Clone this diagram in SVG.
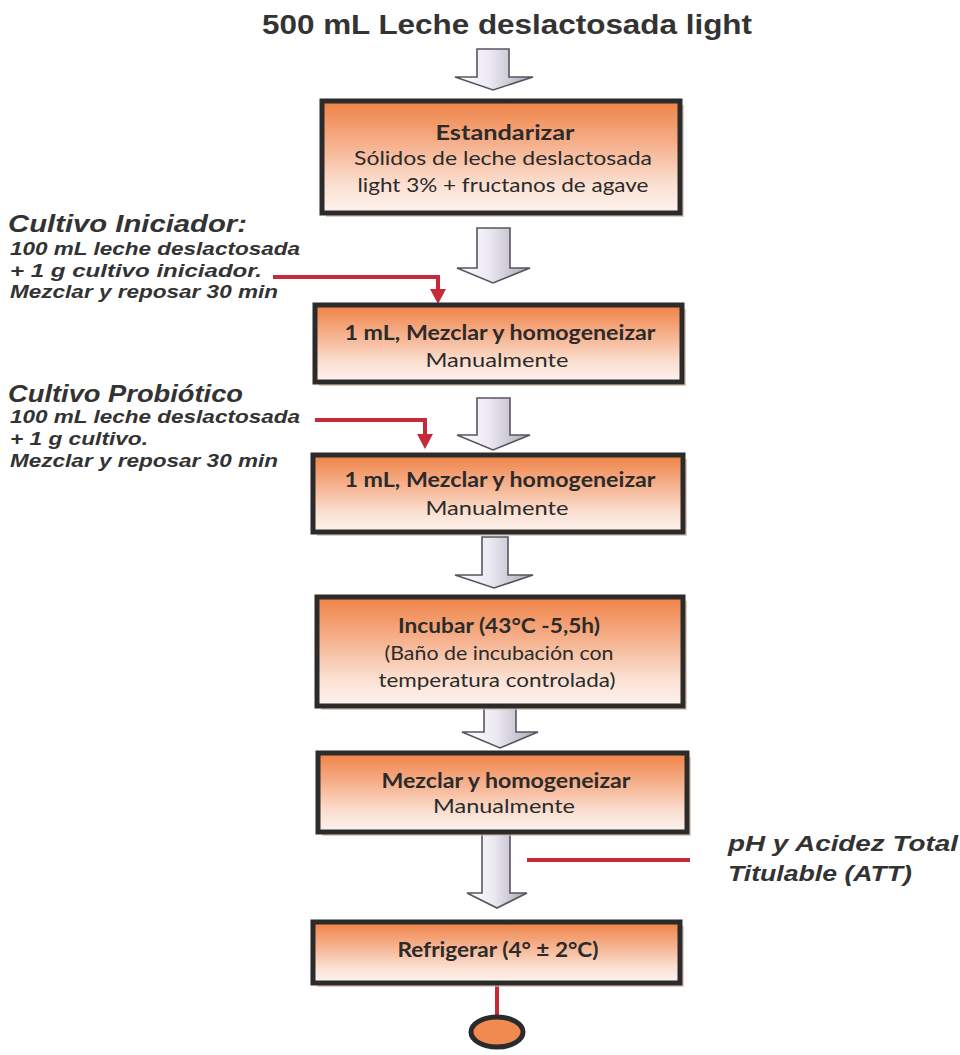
<svg xmlns="http://www.w3.org/2000/svg" width="960" height="1055" viewBox="0 0 960 1055">
<defs>
<linearGradient id="boxg" x1="0" y1="0" x2="0" y2="1">
<stop offset="0" stop-color="#ef8245"/>
<stop offset="0.35" stop-color="#f5ac86"/>
<stop offset="0.75" stop-color="#fbe0d2"/>
<stop offset="1" stop-color="#fdf3ef"/>
</linearGradient>
<linearGradient id="arrg" x1="0" y1="0" x2="1" y2="0">
<stop offset="0" stop-color="#ffffff"/>
<stop offset="0.45" stop-color="#ece8f2"/>
<stop offset="1" stop-color="#a8a6b4"/>
</linearGradient>
</defs>
<style>
.box{fill:url(#boxg);stroke:#2b2b2b;stroke-width:5}
.shadow{fill:#d9b8a2;opacity:0.7}
.bt{font-family:Lato,"Open Sans","Liberation Sans",sans-serif;font-size:20px;fill:#2b2b2b;text-anchor:middle}
.bb{font-weight:bold}
.lt{font-family:"Liberation Sans",Arial,sans-serif;font-weight:bold;font-style:italic;fill:#333333}
.big{font-size:23px}
.sm{font-size:18px}
.garrow{fill:url(#arrg);stroke:#555560;stroke-width:1.6;stroke-linejoin:miter}
.red{stroke:#c62a38;stroke-width:4;fill:none}
.redf{fill:#c62a38}
</style>
<rect width="960" height="1055" fill="#ffffff"/>

<text x="507" y="34" font-family="Liberation Sans,Arial,sans-serif" font-weight="bold" font-size="28" fill="#333333" text-anchor="middle" textLength="490" lengthAdjust="spacingAndGlyphs">500 mL Leche deslactosada light</text>

<g id="connectors">
<polygon class="garrow" points="477,49 509,49 509,77 533,77 493,90 455,77 477,77"/>
<polygon class="garrow" points="477,228 510,228 510,268 530,268 493,283 457,268 477,268"/>
<polygon class="garrow" points="477,398 510,398 510,435 530,435 493,450 457,435 477,435"/>
<polygon class="garrow" points="482,537 508,537 508,575 533,575 494,588 455,575 482,575"/>
<polygon class="garrow" points="484,707 516,707 516,732 538,732 500,748 462,732 484,732"/>
<polygon class="garrow" points="482,833 510,833 510,893 527,893 497,908 467,893 482,893"/>
<path class="red" d="M273 277 H438 V291"/>
<polygon class="redf" points="430,289 446,289 438,304"/>
<path class="red" d="M315 420 H425 V436"/>
<polygon class="redf" points="417,434 433,434 425,449"/>
<line class="red" x1="527" y1="860" x2="690" y2="860" stroke-width="4.5"/>
<line class="red" x1="497" y1="984" x2="497" y2="1016" stroke-width="4.5"/>
</g>

<g id="node-estandarizar">
<rect class="shadow" x="326" y="105" width="358" height="112"/>
<rect class="box" x="322" y="101" width="358" height="112"/>
<text class="bt bb" x="505" y="140" textLength="139" lengthAdjust="spacingAndGlyphs">Estandarizar</text>
<text class="bt" x="503" y="165" textLength="298" lengthAdjust="spacingAndGlyphs">Sólidos de leche deslactosada</text>
<text class="bt" x="503" y="192" textLength="291" lengthAdjust="spacingAndGlyphs">light 3% + fructanos de agave</text>
</g>

<g id="node-iniciador-label">
<text class="lt big" x="8" y="232" textLength="239" lengthAdjust="spacingAndGlyphs">Cultivo Iniciador:</text>
<text class="lt sm" x="10" y="255" textLength="290" lengthAdjust="spacingAndGlyphs">100 mL leche deslactosada</text>
<text class="lt sm" x="10" y="277" textLength="252" lengthAdjust="spacingAndGlyphs">+ 1 g cultivo iniciador.</text>
<text class="lt sm" x="10" y="298" textLength="268" lengthAdjust="spacingAndGlyphs">Mezclar y reposar 30 min</text>
</g>

<g id="node-mezclar1">
<rect class="shadow" x="319" y="309" width="367" height="77"/>
<rect class="box" x="315" y="305" width="367" height="77"/>
<text class="bt bb" x="500" y="340" textLength="311" lengthAdjust="spacingAndGlyphs">1 mL, Mezclar y homogeneizar</text>
<text class="bt" x="497" y="367" textLength="143" lengthAdjust="spacingAndGlyphs">Manualmente</text>
</g>

<g id="node-probiotico-label">
<text class="lt big" x="8" y="402" textLength="235" lengthAdjust="spacingAndGlyphs">Cultivo Probiótico</text>
<text class="lt sm" x="10" y="423" textLength="290" lengthAdjust="spacingAndGlyphs">100 mL leche deslactosada</text>
<text class="lt sm" x="10" y="445" textLength="138" lengthAdjust="spacingAndGlyphs">+ 1 g cultivo.</text>
<text class="lt sm" x="10" y="467" textLength="268" lengthAdjust="spacingAndGlyphs">Mezclar y reposar 30 min</text>
</g>

<g id="node-mezclar2">
<rect class="shadow" x="317" y="459" width="370" height="77"/>
<rect class="box" x="313" y="455" width="370" height="77"/>
<text class="bt bb" x="500" y="487" textLength="311" lengthAdjust="spacingAndGlyphs">1 mL, Mezclar y homogeneizar</text>
<text class="bt" x="497" y="515" textLength="143" lengthAdjust="spacingAndGlyphs">Manualmente</text>
</g>

<g id="node-incubar">
<rect class="shadow" x="321" y="601" width="366" height="109"/>
<rect class="box" x="317" y="597" width="366" height="109"/>
<text class="bt bb" x="499" y="633" textLength="202" lengthAdjust="spacingAndGlyphs">Incubar  (43°C -5,5h)</text>
<text class="bt" x="499" y="660" textLength="229" lengthAdjust="spacingAndGlyphs">(Baño de incubación con</text>
<text class="bt" x="497" y="687" textLength="237" lengthAdjust="spacingAndGlyphs">temperatura controlada)</text>
</g>

<g id="node-mezclar3">
<rect class="shadow" x="322" y="757" width="369" height="79"/>
<rect class="box" x="318" y="753" width="369" height="79"/>
<text class="bt bb" x="506" y="788" textLength="249" lengthAdjust="spacingAndGlyphs">Mezclar y homogeneizar</text>
<text class="bt" x="504" y="813" textLength="142" lengthAdjust="spacingAndGlyphs">Manualmente</text>
</g>

<g id="node-att-label">
<text class="lt" font-size="22" x="728" y="851" textLength="230" lengthAdjust="spacingAndGlyphs">pH y Acidez Total</text>
<text class="lt" font-size="22" x="728" y="881" textLength="184" lengthAdjust="spacingAndGlyphs">Titulable (ATT)</text>
</g>

<g id="node-refrigerar">
<rect class="shadow" x="317" y="926" width="367" height="61"/>
<rect class="box" x="313" y="922" width="367" height="61"/>
<text class="bt bb" x="498" y="957" textLength="201" lengthAdjust="spacingAndGlyphs">Refrigerar (4° ± 2°C)</text>
</g>

<g id="node-end">
<ellipse cx="497" cy="1032" rx="26" ry="15" fill="#f08a4e" stroke="#2b2b2b" stroke-width="5"/>
</g>
</svg>
